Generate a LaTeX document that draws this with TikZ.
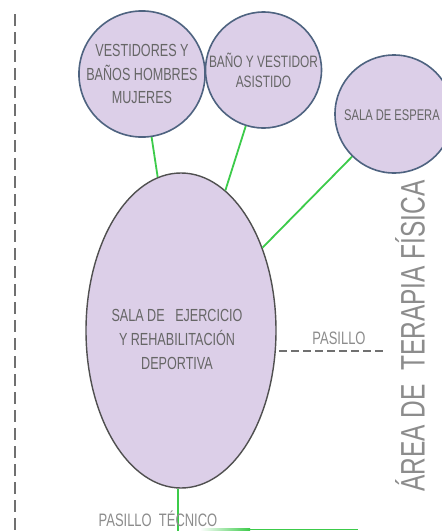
\documentclass[tikz,border=0pt]{standalone}
\usepackage{fontspec}
\usetikzlibrary{shapes.geometric}
\newfontfamily\hand[FakeStretch=0.72]{Liberation Sans}
\definecolor{lav}{HTML}{DCCFE8}
\definecolor{cborder}{HTML}{4E6380}
\definecolor{eborder}{HTML}{505050}
\definecolor{grn}{HTML}{3CCB4A}
\definecolor{txt}{HTML}{666666}
\definecolor{lbl}{HTML}{8C8C8C}
\definecolor{dash}{HTML}{707070}
\begin{document}
\begin{tikzpicture}[x=1pt,y=-1pt,
  room/.style={circle, fill=lav, draw=cborder, line width=1.6pt, minimum size=116pt, inner sep=0pt, align=center, text=txt},
  bigroom/.style={ellipse, fill=lav, draw=eborder, line width=1.4pt, minimum width=190pt, minimum height=315pt, inner sep=0pt},
  link/.style={draw=grn, line width=1.8pt},
  lbltext/.style={text=lbl, inner sep=0pt, font=\hand\fontsize{18}{20}\selectfont},
  corridor/.style={draw=dash, line width=1.3pt, dash pattern=on 8pt off 4pt},
  border/.style={draw=dash, line width=1.3pt, dash pattern=on 12pt off 6pt}]
\clip (0,0) rectangle (442,531);
\fill[white] (0,0) rectangle (442,531);

% left dashed border
\coordinate (bt) at (15,14);
\coordinate (bb) at (15,531);
\draw[border] (bt) -- (bb);

% ellipse
\node[bigroom] (main) at (181,330.5) {};
\node[text=txt, align=center, font=\hand\fontsize{17.5}{24}\selectfont, inner sep=0pt] (maintext) at (177,339) {SALA DE\ \ \ EJERCICIO\\Y REHABILITACIÓN\\DEPORTIVA};

% circles
\node[room, font=\hand\fontsize{17.5}{23.5}\selectfont] (c1) at (142,74) {VESTIDORES Y\\BAÑOS HOMBRES\\MUJERES};
\node[room, font=\hand\fontsize{16.5}{20}\selectfont] (c2) at (263.5,70) {BAÑO Y VESTIDOR\\ASISTIDO};
\node[room, minimum size=118pt] (c3) at (394,114) {};
\node[text=txt, font=\hand\fontsize{15.5}{18}\selectfont, inner sep=0pt, anchor=west] (c3text) at (344,115) {SALA DE ESPERA};

% links
\draw[link] (c1) -- (main);
\draw[link] (c2) -- (main);
\draw[link] (c3) -- (main);
\coordinate (down) at (178,531);
\draw[link] (main.south -| down) -- (down);

% bottom green corridor line
\coordinate (g0) at (200,529.5);
\coordinate (g1) at (250,529.5);
\coordinate (g2) at (358,529.5);
\shade[left color=white, right color=grn] ([yshift=-0.9pt]g0) rectangle ([yshift=0.9pt]g1);
\draw[draw=grn, line width=1.8pt] (g1) -- (g2);

% pasillo
\coordinate (p0) at (279,351);
\coordinate (p1) at (384,351);
\draw[corridor] (p0) -- (p1);
\node[lbltext] (pasillo) at (339,338) {PASILLO};
\node[lbltext] (ptec) at (158,519) {PASILLO\ \ TÉCNICO};

% vertical title
\node[text=lbl, inner sep=0pt, rotate=90, font=\hand\fontsize{34}{36}\selectfont] (title) at (410,336) {ÁREA DE\ \ TERAPIA FÍSICA};
\end{tikzpicture}
\end{document}
